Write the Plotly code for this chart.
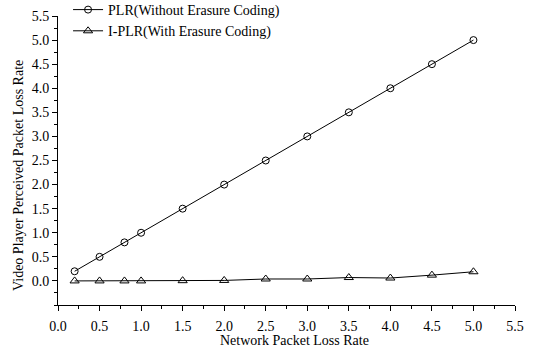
import plotly.graph_objects as go

x_vals = [0.2, 0.5, 0.8, 1.0, 1.5, 2.0, 2.5, 3.0, 3.5, 4.0, 4.5, 5.0]
plr = [0.2, 0.5, 0.8, 1.0, 1.5, 2.0, 2.5, 3.0, 3.5, 4.0, 4.5, 5.0]
iplr = [0.0, 0.0, 0.0, 0.0, 0.005, 0.01, 0.04, 0.04, 0.07, 0.06, 0.12, 0.19]
tick_vals = [0.0, 0.5, 1.0, 1.5, 2.0, 2.5, 3.0, 3.5, 4.0, 4.5, 5.0, 5.5]
x_title = "Network Packet Loss Rate"
y_title = "Video Player Perceived Packet Loss Rate"

font = "Liberation Serif, Times New Roman, serif"

fig = go.Figure()
fig.add_trace(go.Scatter(x=x_vals, y=plr, mode="lines+markers", name="PLR(Without Erasure Coding)",
                         line=dict(color="black", width=1),
                         marker=dict(symbol="circle-open", size=7, color="black", line=dict(width=1))))
fig.add_trace(go.Scatter(x=x_vals, y=iplr, mode="lines+markers", name="I-PLR(With Erasure Coding)",
                         line=dict(color="black", width=1),
                         marker=dict(symbol="triangle-up-open", size=8, color="black", line=dict(width=1))))

axis_common = dict(showline=True, linecolor="black", linewidth=1, ticks="outside", ticklen=5,
                   tickcolor="black", showgrid=False, zeroline=False, mirror=False,
                   tickfont=dict(family=font, size=14, color="black"))

plot_h = 305 - 16
plot_w = 515 - 58

fig.update_layout(
    width=534, height=351,
    margin=dict(l=58, r=19, t=16, b=46, autoexpand=False),
    paper_bgcolor="white", plot_bgcolor="white",
    font=dict(family=font, color="black", size=14),
    showlegend=True,
    legend=dict(x=0.022, y=1 + 22 / plot_h, xanchor="left", yanchor="top", bgcolor="rgba(0,0,0,0)",
                font=dict(family=font, size=14, color="black"), tracegroupgap=0, itemwidth=30),
    xaxis=dict(range=[0, 5.5], tickvals=tick_vals, tickformat=".1f", ticklabelstandoff=3,
               minor=dict(ticks="outside", ticklen=3, dtick=0.25, tick0=0, tickcolor="black"),
               **axis_common),
    yaxis=dict(range=[-0.5, 5.5], tickvals=tick_vals, tickformat=".1f",
               minor=dict(ticks="outside", ticklen=3, dtick=0.25, tick0=0, tickcolor="black"),
               **axis_common),
    annotations=[
        dict(text=x_title, xref="paper", yref="paper", x=(294 - 58) / plot_w, y=-(340 - 305) / plot_h,
             xanchor="center", yanchor="middle", showarrow=False, font=dict(family=font, size=14, color="black")),
        dict(text=y_title, xref="paper", yref="paper", x=-(58 - 18) / plot_w, y=(305 - 176) / plot_h,
             xanchor="center", yanchor="middle", textangle=-90, showarrow=False,
             font=dict(family=font, size=14, color="black")),
    ],
)

fig.write_html("out.html")
